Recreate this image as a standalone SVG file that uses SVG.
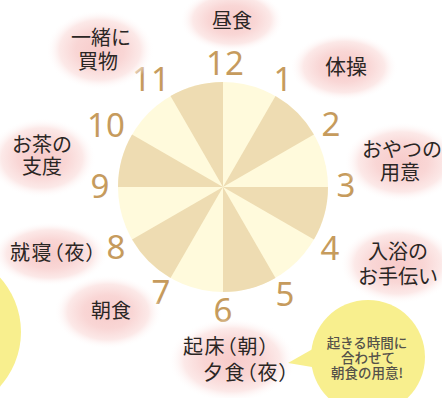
<svg xmlns="http://www.w3.org/2000/svg" width="442" height="398" viewBox="0 0 442 398">
<style>
.lab{font-family:"Noto Sans CJK JP","Noto Sans",sans-serif;font-size:20px;fill:#2a2624}
.num{font-family:"Noto Sans","Liberation Sans",sans-serif;font-size:33px;fill:#C69B5D;text-anchor:middle}
.mid{text-anchor:middle}
.pa{font-feature-settings:"palt" 1;letter-spacing:1.5px}
.call{font-family:"Noto Sans CJK JP","Noto Sans",sans-serif;font-size:13.5px;font-weight:500;fill:#55524a;text-anchor:middle}
.light{fill:#FFFADC}
.dark{fill:#EEDCB2}
.glow{fill:url(#pink)}
.yel{fill:#F8EF8E}
</style>
<defs>
<radialGradient id="pink" cx="0.5" cy="0.5" r="0.5">
<stop offset="0" stop-color="#F7CBCA"/>
<stop offset="0.45" stop-color="#F9D6D5"/>
<stop offset="0.75" stop-color="#FCE9E8"/>
<stop offset="1" stop-color="#FFFFFF" stop-opacity="0"/>
</radialGradient>
</defs>
<rect width="442" height="398" fill="#FFFFFF"/>
<g id="clock">
<circle class="light" cx="223" cy="187" r="105"/>
<path class="dark" d="M223 187 L275.5 96.07 A105 105 0 0 1 313.93 134.5 Z"/>
<path class="dark" d="M223 187 L328 187 A105 105 0 0 1 313.93 239.5 Z"/>
<path class="dark" d="M223 187 L275.5 277.93 A105 105 0 0 1 223 292 Z"/>
<path class="dark" d="M223 187 L170.5 277.93 A105 105 0 0 1 132.07 239.5 Z"/>
<path class="dark" d="M223 187 L118 187 A105 105 0 0 1 132.07 134.5 Z"/>
<path class="dark" d="M223 187 L170.5 96.07 A105 105 0 0 1 223 82 Z"/>
</g>
<g id="numbers">
<text class="num" x="225" y="75">12</text>
<text class="num" x="283" y="91">1</text>
<text class="num" x="331" y="136">2</text>
<text class="num" x="346" y="197">3</text>
<text class="num" x="330" y="260">4</text>
<text class="num" x="285" y="306">5</text>
<text class="num" x="223" y="322">6</text>
<text class="num" x="161" y="304">7</text>
<text class="num" x="116" y="259">8</text>
<text class="num" x="100" y="198">9</text>
<text class="num" x="106" y="137">10</text>
<text class="num" x="151" y="91">11</text>
</g>
<g id="connectors"></g>
<g id="n-lunch">
<ellipse class="glow" cx="232" cy="20" rx="52" ry="32"/>
<text class="lab mid" x="232" y="28">昼食</text>
</g>
<g id="n-exercise">
<ellipse class="glow" cx="344" cy="67" rx="54" ry="34"/>
<text class="lab mid" x="346" y="74" style="font-size:21px">体操</text>
</g>
<g id="n-snack">
<ellipse class="glow" cx="402" cy="162" rx="58" ry="40"/>
<text class="lab" x="362" y="156.5">おやつの</text>
<text class="lab mid" x="400" y="179.5">用意</text>
</g>
<g id="n-bath">
<ellipse class="glow" cx="398" cy="264" rx="58" ry="40"/>
<text class="lab mid" x="398" y="258.5">入浴の</text>
<text class="lab mid" x="398" y="283.5">お手伝い</text>
</g>
<g id="n-wake">
<ellipse class="glow" cx="232" cy="360" rx="64" ry="42"/>
<text class="lab pa" x="183" y="353.5">起床（朝）</text>
<text class="lab pa" x="203" y="380">夕食（夜）</text>
</g>
<g id="n-breakfast">
<ellipse class="glow" cx="108" cy="312" rx="54" ry="37"/>
<text class="lab mid" x="111" y="317.5">朝食</text>
</g>
<g id="n-sleep">
<ellipse class="glow" cx="50" cy="254" rx="58" ry="32"/>
<text class="lab pa" x="10" y="260">就寝（夜）</text>
</g>
<g id="n-tea">
<ellipse class="glow" cx="42" cy="158" rx="54" ry="40"/>
<text class="lab mid" x="42" y="151.5">お茶の</text>
<text class="lab mid" x="42" y="174">支度</text>
</g>
<g id="n-shopping">
<ellipse class="glow" cx="100" cy="50" rx="54" ry="40"/>
<text class="lab mid" x="101" y="44.5">一緒に</text>
<text class="lab mid" x="98" y="68.5">買物</text>
</g>
<g id="n-callout">
<circle class="yel" cx="368" cy="357" r="57"/>
<polygon class="yel" points="288,363 318,346 318,368"/>
<text class="call" x="367" y="348">起きる時間に</text>
<text class="call" x="368" y="363">合わせて</text>
<text class="call" x="367" y="378">朝食の用意!</text>
</g>
<g id="n-callout-left">
<circle class="yel" cx="-60" cy="332" r="81"/>
</g>
</svg>
